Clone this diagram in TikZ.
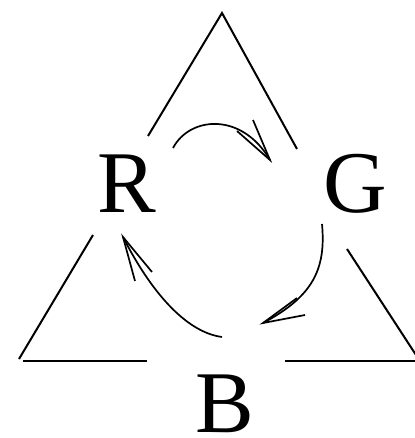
\documentclass[tikz,border=0pt]{standalone}
\usepackage{fontspec}
\setmainfont{Liberation Serif}
\begin{document}
\begin{tikzpicture}[x=1pt,y=-1pt,
  edge/.style={line width=2pt},
  flow/.style={line width=1.7pt},
  lab/.style={inner sep=0pt,anchor=base,font=\fontsize{88}{88}\selectfont}]
\useasboundingbox (0,0) rectangle (414,438);
% labels
\node[lab] (R) at (127,212) {R};
\node[lab] (G) at (355,212) {G};
\node[lab] (B) at (225,432) {B};
% triangle segments
\coordinate (top) at (222,13);
\coordinate (l1) at (148,136);
\coordinate (l2) at (93,235);
\coordinate (l3) at (19,359);
\coordinate (r1) at (297,149);
\coordinate (r2) at (347,249);
\coordinate (r3) at (416,355);
\coordinate (b1) at (23,361);
\coordinate (b2) at (147,361);
\coordinate (b3) at (285,361);
\coordinate (b4) at (416,361);
\draw[edge] (l1) -- (top) -- (r1);
\draw[edge] (l2) -- (l3);
\draw[edge] (r2) -- (r3);
\draw[edge] (b1) -- (b2);
\draw[edge] (b3) -- (b4);
% arrow R -> G
\coordinate (a1s) at (173,148);
\coordinate (a1t) at (270,160);
\draw[flow] (a1s) .. controls (190,116) and (242,112) .. (a1t);
\draw[flow] (253,120) -- (a1t) -- (237,131);
% arrow G -> B
\coordinate (a2s) at (322,224);
\coordinate (a2t) at (263,323);
\draw[flow] (a2s) .. controls (326,268) and (314,296) .. (a2t);
\draw[flow] (305,315) -- (a2t) -- (297,298);
% arrow B -> R
\coordinate (a3s) at (222,337);
\coordinate (a3t) at (123,237);
\draw[flow] (a3s) .. controls (185,332) and (150,290) .. (a3t);
\draw[flow] (135,281) -- (a3t) -- (152,272);
\end{tikzpicture}
\end{document}
